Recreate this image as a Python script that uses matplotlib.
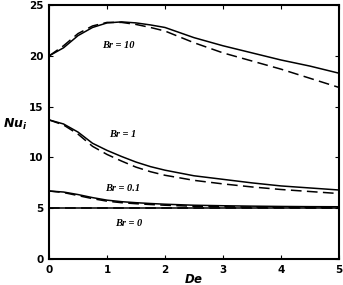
import matplotlib
matplotlib.use("Agg")
import matplotlib.pyplot as plt

plt.rcParams['mathtext.fontset'] = 'custom'
plt.rcParams['mathtext.it'] = 'DejaVu Sans:bold:italic'
plt.rcParams['mathtext.rm'] = 'DejaVu Sans:bold'

de = [0, 0.25, 0.5, 0.75, 1.0, 1.25, 1.5, 1.75, 2.0, 2.5, 3.0, 3.5, 4.0, 4.5, 5.0]

br10_solid = [20.0, 20.8, 22.0, 22.8, 23.25, 23.35, 23.25, 23.05, 22.8, 21.8, 21.0, 20.3, 19.6, 19.0, 18.3]
br10_dash = [20.0, 21.0, 22.2, 22.95, 23.3, 23.3, 23.1, 22.8, 22.45, 21.3, 20.3, 19.5, 18.7, 17.8, 16.9]

br1_solid = [13.7, 13.3, 12.5, 11.4, 10.7, 10.1, 9.55, 9.1, 8.75, 8.2, 7.85, 7.5, 7.2, 7.0, 6.8]
br1_dash = [13.7, 13.2, 12.3, 11.1, 10.3, 9.65, 9.05, 8.6, 8.25, 7.75, 7.4, 7.1, 6.85, 6.65, 6.45]

br01_solid = [6.7, 6.6, 6.35, 6.05, 5.8, 5.65, 5.55, 5.47, 5.4, 5.3, 5.25, 5.21, 5.18, 5.16, 5.15]
br01_dash = [6.7, 6.55, 6.25, 5.95, 5.7, 5.55, 5.45, 5.37, 5.3, 5.2, 5.15, 5.12, 5.1, 5.07, 5.05]

br0_solid = [5.0] * len(de)
br0_dash = [5.0] * len(de)

labels = ["Br = 10", "Br = 1", "Br = 0.1", "Br = 0"]
label_pos = [(1.19, 21.0), (1.27, 12.3), (1.27, 6.9), (1.38, 3.5)]

xticks = [0, 1, 2, 3, 4, 5]
yticks = [0, 5, 10, 15, 20, 25]

fig = plt.figure(figsize=(3.43, 2.85), dpi=100)
ax = fig.add_axes([0.143, 0.091, 0.845, 0.891])

for s, d in [(br10_solid, br10_dash), (br1_solid, br1_dash),
             (br01_solid, br01_dash), (br0_solid, br0_dash)]:
    ax.plot(de, s, color='black', lw=1.1, solid_capstyle='butt')
    ax.plot(de, d, color='black', lw=1.1, dashes=(7, 3.5))

for t, (x, y) in zip(labels, label_pos):
    ax.text(x, y, t, fontsize=7.5, family='Liberation Serif', style='italic',
            fontweight='bold', ha='center', va='center')

ax.set_xlim(0, 5)
ax.set_ylim(0, 25)
ax.set_xticks(xticks)
ax.set_yticks(yticks)
ax.tick_params(direction='in', top=True, right=True, length=3, width=0.8,
               labelsize=7.5, pad=4)
for lab in ax.get_xticklabels() + ax.get_yticklabels():
    lab.set_fontweight('bold')
for sp in ax.spines.values():
    sp.set_linewidth(1.5)

ax.set_xlabel(r'$De$', fontsize=8.5, labelpad=-1.5)
ax.set_ylabel(r'$Nu_i$', fontsize=9, rotation=0, va='center', ha='center')
ax.yaxis.set_label_coords(-0.115, 0.53)

fig.savefig('out.png', dpi=100)
